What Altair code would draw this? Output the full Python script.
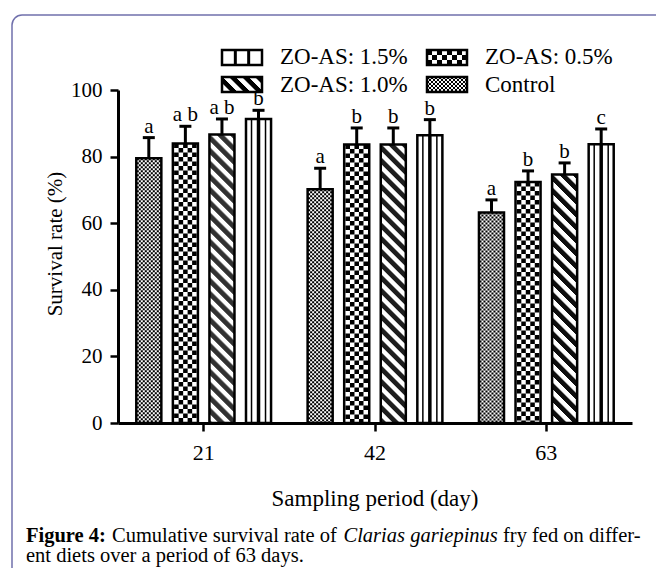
import altair as alt
import pandas as pd

# ---------------- data ----------------
days = ["21", "42", "63"]
groups = ["Control", "ZO-AS: 0.5%", "ZO-AS: 1.0%", "ZO-AS: 1.5%"]

control_mean = [79.5, 70.2, 63.2]
zo05_mean = [83.9, 83.6, 72.4]
zo10_mean = [86.6, 83.6, 74.6]
zo15_mean = [91.3, 86.4, 83.7]

control_err = [6.2, 6.3, 3.8]
zo05_err = [5.2, 5.0, 3.3]
zo10_err = [4.7, 5.0, 3.5]
zo15_err = [2.6, 4.7, 4.6]

control_sig = ["a", "a", "a"]
zo05_sig = ["a b", "b", "b"]
zo10_sig = ["a b", "b", "b"]
zo15_sig = ["b", "b", "c"]

y_ticks = [0, 20, 40, 60, 80, 100]
y_title = "Survival rate (%)"
x_title = "Sampling period (day)"
caption_bold = "Figure 4:"
caption_a = "Cumulative survival rate of"
caption_italic = "Clarias gariepinus"
caption_b = "fry fed on differ-"
caption_line2 = "ent diets over a period of 63 days."

rows = []
for g, means, errs, sigs in zip(
    groups,
    [control_mean, zo05_mean, zo10_mean, zo15_mean],
    [control_err, zo05_err, zo10_err, zo15_err],
    [control_sig, zo05_sig, zo10_sig, zo15_sig],
):
    for d, m, e, s in zip(days, means, errs, sigs):
        rows.append({"day": d, "group": g, "mean": m, "top": m + e, "sig": s})
df = pd.DataFrame(rows)
one = pd.DataFrame({"k": [0]})

# ---------------- styling ----------------
FONT = "Liberation Serif"
W, H = 514, 333
PI, PO = 0.315, 0.5   # padding of the within-group (xOffset) band scale

xs = alt.Scale(domain=days, paddingInner=0, paddingOuter=0)
xos = alt.Scale(domain=groups, paddingInner=PI, paddingOuter=PO)
ys = alt.Scale(domain=[0, 100], nice=False, zero=True)

# pixel shift of each series' bar centre from its group centre (same as the xOffset scale)
n = len(groups)
step = (W / len(days)) / (n - PI + 2 * PO)
series_shift = {g: step * (i - (n - 1) / 2) for i, g in enumerate(groups)}

x_axis = alt.Axis(title=None, labelFont=FONT, labelFontSize=22, labelColor="black",
                  labelPadding=11, labelAngle=0, tickColor="black", tickWidth=2.5,
                  tickSize=8, domainColor="black", domainWidth=3, grid=False)
y_axis = alt.Axis(title=None, values=y_ticks, labelFont=FONT, labelFontSize=21,
                  labelColor="black", labelPadding=8, labelFlush=False, labelOverlap=False,
                  tickColor="black", tickWidth=2.5, tickSize=8, domainColor="black",
                  domainWidth=3, grid=False)

base = alt.Chart(df)
X = alt.X("day:N", scale=xs, axis=x_axis, sort=days)
XO = alt.XOffset("group:N", scale=xos, sort=groups)
Y = alt.Y("mean:Q", scale=ys, axis=y_axis)

layers = []

# figure frame
layers.append(
    alt.Chart(one).mark_rect(cornerRadius=10, fillOpacity=0, stroke="#7070ac", strokeWidth=1.5)
    .encode(x=alt.value(-106), x2=alt.value(800), y=alt.value(-75), y2=alt.value(800))
)


def bar_pattern(group, offsets, widths, dash=None, phases=None):
    out = []
    for i, off in enumerate(offsets):
        props = dict(xOffset=series_shift[group] + off, strokeWidth=widths[i],
                     color="black", strokeCap="butt")
        if dash is not None:
            props["strokeDash"] = dash
            props["strokeDashOffset"] = phases[i]
        out.append(
            base.transform_filter(alt.datum.group == group)
            .mark_rule(**props)
            .encode(x=X, y=Y, y2=alt.datum(0))
        )
    return out


# Control: fine checker
offs = [-11 + 2 * i for i in range(12)]
layers += bar_pattern(groups[0], offs, [2.05] * len(offs), [2, 2],
                      [0 if i % 2 == 0 else 2 for i in range(len(offs))])
# 0.5%: coarse checker
offs = [-9, -4.5, 0, 4.5, 9]
layers += bar_pattern(groups[1], offs, [4.55] * len(offs), [4.5, 4.5],
                      [0 if i % 2 == 0 else 4.5 for i in range(len(offs))])
# 1.0%: diagonal stripes
offs = list(range(-12, 13))
layers += bar_pattern(groups[2], offs, [1.1] * len(offs), [6.5, 6.5],
                      [(-k) % 13 for k in range(len(offs))])
# 1.5%: vertical lines
layers += bar_pattern(groups[3], [-7, 0, 7], [1.5, 3.5, 1.5])

# bar outlines
layers.append(
    base.mark_bar(fillOpacity=0, stroke="black", strokeWidth=2.5, strokeJoin="miter")
    .encode(x=X, xOffset=XO, y=Y, y2=alt.datum(0))
)
# error bars
layers.append(
    base.mark_rule(color="black", strokeWidth=3)
    .encode(x=X, xOffset=XO, y=Y, y2="top:Q")
)
layers.append(
    base.mark_tick(color="black", size=12, thickness=3, orient="horizontal", opacity=1)
    .encode(x=X, xOffset=XO, y=alt.Y("top:Q", scale=ys, axis=y_axis))
)
# significance letters
layers.append(
    base.mark_text(font=FONT, fontSize=21, color="black", baseline="alphabetic", dy=-5)
    .encode(x=X, xOffset=XO, y=alt.Y("top:Q", scale=ys, axis=y_axis), text="sig:N")
)


# ---------------- legend (drawn by hand) ----------------
def px_rule(x, y0, y1, width, dash=None, phase=0):
    props = dict(strokeWidth=width, color="black", strokeCap="butt")
    if dash is not None:
        props["strokeDash"] = dash
        props["strokeDashOffset"] = phase
    return alt.Chart(one).mark_rule(**props).encode(x=alt.value(x), y=alt.value(y0), y2=alt.value(y1))


def px_box(x0, x1, y0, y1):
    return alt.Chart(one).mark_rect(fillOpacity=0, stroke="black", strokeWidth=2.5,
                                    strokeJoin="miter").encode(
        x=alt.value(x0), x2=alt.value(x1), y=alt.value(y0), y2=alt.value(y1))


def px_text(x, y, txt, size=22, **kw):
    return alt.Chart(one).mark_text(font=FONT, fontSize=size, color="black", align="left",
                                    baseline="alphabetic", **kw).encode(
        x=alt.value(x), y=alt.value(y), text=alt.value(txt))


C1, C2 = 104, 309
R1, R2 = (-40, -25), (-13, 2)
BW = 40

# 1.5% : vertical compartments
layers.append(px_rule(C1 + BW / 3, R1[0], R1[1], 3))
layers.append(px_rule(C1 + 2 * BW / 3, R1[0], R1[1], 3))
layers.append(px_box(C1, C1 + BW, R1[0], R1[1]))
# 0.5% : coarse checker
for i in range(8):
    layers.append(px_rule(C2 + 2.5 + 5 * i, R1[0], R1[1], 5.05, [5, 5], 0 if i % 2 == 0 else 5))
layers.append(px_box(C2, C2 + BW, R1[0], R1[1]))
# 1.0% : diagonal
for i in range(BW):
    layers.append(px_rule(C1 + 0.5 + i, R2[0], R2[1], 1.1, [6.5, 6.5], (-i) % 13))
layers.append(px_box(C1, C1 + BW, R2[0], R2[1]))
# Control : fine checker
for i in range(20):
    layers.append(px_rule(C2 + 1 + 2 * i, R2[0], R2[1], 2.05, [2, 2], 0 if i % 2 == 0 else 2))
layers.append(px_box(C2, C2 + BW, R2[0], R2[1]))

layers.append(px_text(162, -26, groups[3], size=23))
layers.append(px_text(367, -26, groups[1], size=23))
layers.append(px_text(162, 1.5, groups[2], size=23))
layers.append(px_text(367, 1.5, groups[0], size=23))

# axis titles
layers.append(
    alt.Chart(one).mark_text(font=FONT, fontSize=23, color="black", align="center",
                             baseline="alphabetic")
    .encode(x=alt.value(W / 2), y=alt.value(416), text=alt.value(x_title))
)
layers.append(
    alt.Chart(one).mark_text(font=FONT, fontSize=21, color="black", align="center",
                             baseline="alphabetic", angle=270)
    .encode(x=alt.value(-56), y=alt.value(154), text=alt.value(y_title))
)

# caption
layers.append(px_text(-92, 451.5, caption_bold, size=20.5, fontWeight="bold"))
layers.append(px_text(-6, 451.5, caption_a, size=20.5))
layers.append(px_text(225.5, 451.5, caption_italic, size=20.5, fontStyle="italic"))
layers.append(px_text(385, 451.5, caption_b, size=20.5))
layers.append(px_text(-92, 471.5, caption_line2, size=20.5))

chart = alt.layer(*layers).properties(
    width=W,
    height=H,
    padding={"left": 110, "top": 82, "right": 24, "bottom": 145},
    autosize=alt.AutoSizeParams(type="none"),
    background="white",
).configure_view(stroke=None)

chart.save("out.html", embed_options={"renderer": "svg", "actions": False})
